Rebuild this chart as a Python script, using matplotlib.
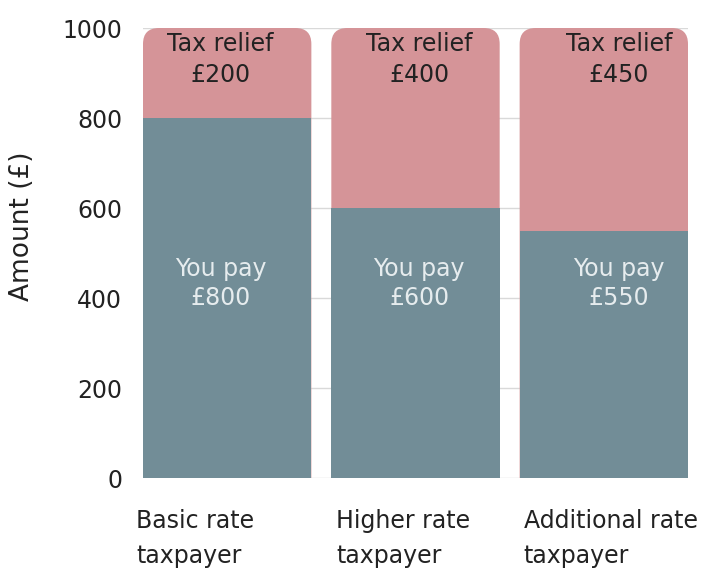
import matplotlib
matplotlib.use("Agg")
import matplotlib.pyplot as plt
from matplotlib.patches import FancyBboxPatch
import numpy as np

categories = ["Basic rate\ntaxpayer", "Higher rate\ntaxpayer", "Additional rate\ntaxpayer"]
you_pay = [800, 600, 550]
tax_relief = [200, 400, 450]
yticks = [0, 200, 400, 600, 800, 1000]

c_pay = "#728d97"
c_relief = "#d59498"

plt.rcParams['font.family'] = ['DejaVu Sans']
fig = plt.figure(figsize=(7.09, 5.70), dpi=100)
ax = fig.add_axes([143/709, 1 - 478/570, (688-143)/709, (478-28)/570])

x = np.arange(len(categories))
w = 0.894

# pink (tax relief) bars, with rounded top corners
rel = ax.bar(x, tax_relief, bottom=you_pay, width=w, color=c_relief, zorder=2)
for r in rel:
    x0, y0 = r.get_x(), r.get_y()
    bw, bh = r.get_width(), r.get_height()
    r.remove()
    rad = 0.085
    aspect = (1 / 0.45) * 188  # data-y per data-x for equal pixel rounding
    p = FancyBboxPatch((x0, -100), bw, y0 + bh + 100,
                       boxstyle=f"round,pad=0,rounding_size={rad}",
                       mutation_aspect=aspect,
                       facecolor=c_relief, edgecolor="none", zorder=2)
    ax.add_patch(p)

ax.bar(x, you_pay, width=w, color=c_pay, zorder=3)

label_shift = [-0.035, 0.02, 0.08]
cat_shift = [-0.037, 0.027, 0.021]
for i in range(len(categories)):
    ax.text(x[i] + label_shift[i], 930, f"Tax relief\n£{tax_relief[i]}", ha="center", va="center",
            fontsize=17, color="#222222", zorder=5, linespacing=1.32)
    ax.text(x[i] + label_shift[i], 432, f"You pay\n£{you_pay[i]}", ha="center", va="center",
            fontsize=17, color="#e6ecee", zorder=5, linespacing=1.27)
    ax.text(x[i] - w / 2 + cat_shift[i], -68, categories[i], ha="left", va="top",
            fontsize=17, color="#222222", linespacing=1.62)

ax.set_xlim(-w / 2, x[-1] + w / 2)
ax.set_ylim(0, 1000)
ax.set_yticks(yticks)
ax.set_yticklabels([str(t) for t in yticks], fontsize=17, color="#222222")
ax.set_xticks([])
ax.tick_params(axis="y", length=0, pad=15)
ax.grid(axis="y", color="#d9d9d9", linewidth=1, zorder=0)
ax.set_axisbelow(True)
for s in ax.spines.values():
    s.set_visible(False)
ax.set_ylabel("Amount (£)", fontsize=19, color="#222222", va="center")
ax.yaxis.set_label_coords(-0.222, 0.56)

fig.savefig("out.png", dpi=100)
